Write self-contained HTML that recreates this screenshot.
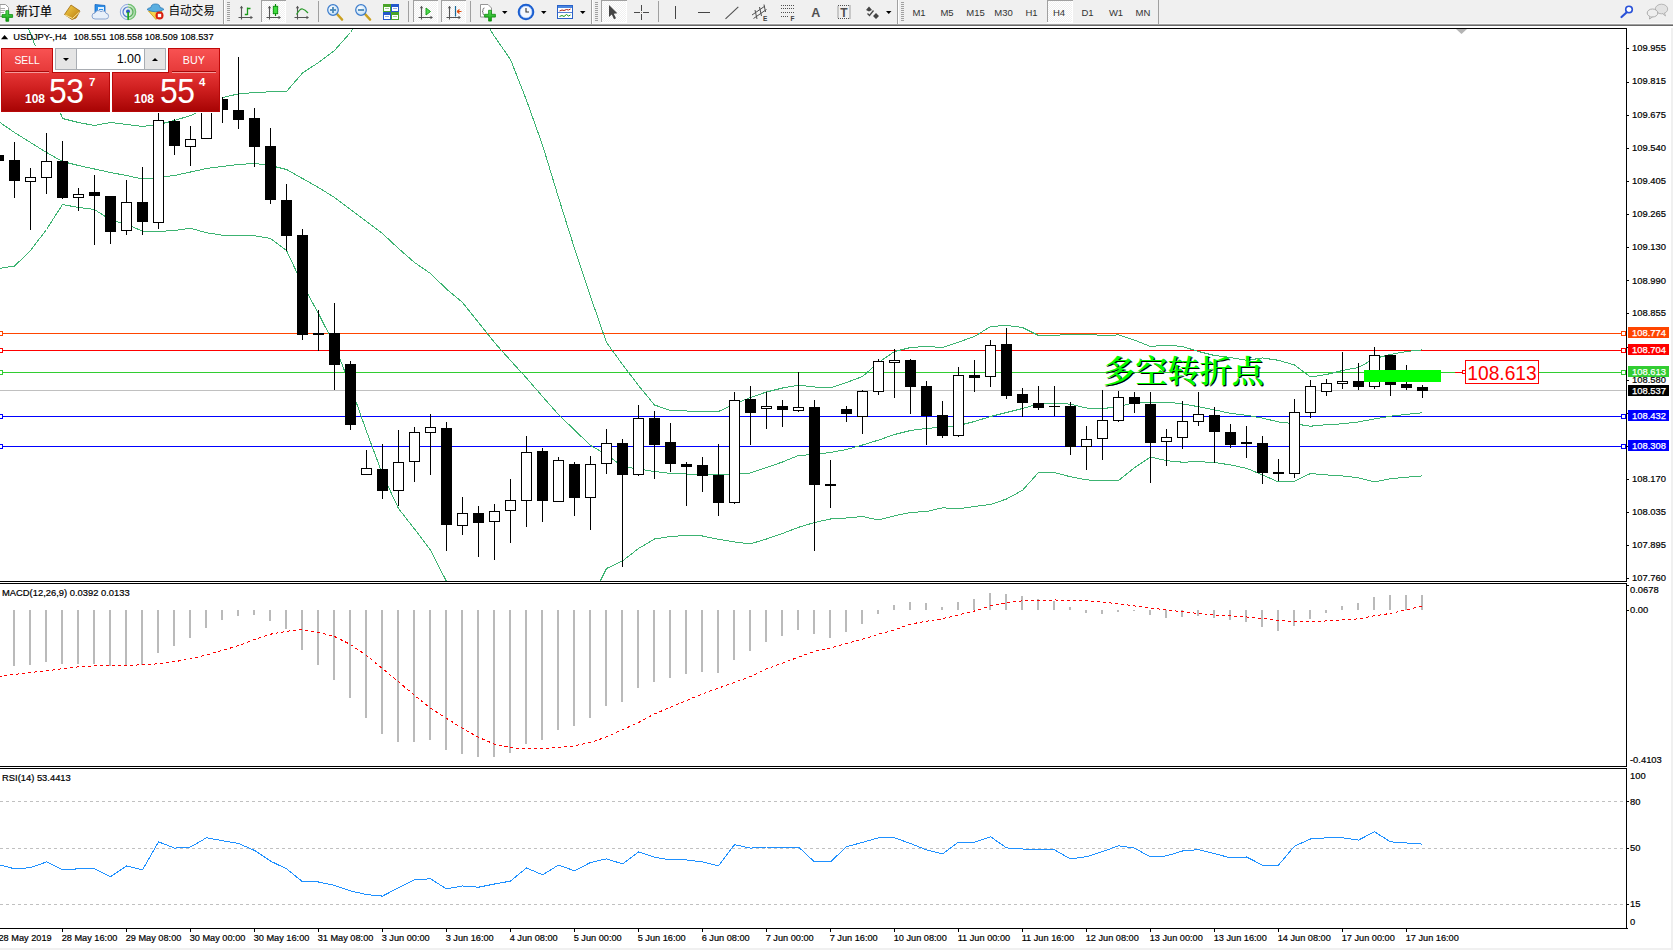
<!DOCTYPE html>
<html><head><meta charset="utf-8"><title>USDJPY-,H4</title>
<style>
html,body{margin:0;padding:0;background:#fff;}
body{width:1673px;height:950px;overflow:hidden;position:relative;font-family:"Liberation Sans", "Noto Sans CJK SC", sans-serif;}
svg text[fill="#000"]{stroke:#000;stroke-width:.2px}
svg text[fill="#fff"]{stroke:#fff;stroke-width:.25px}
</style></head><body>
<svg width="1673" height="950" viewBox="0 0 1673 950" style="position:absolute;left:0;top:0" font-family='"Liberation Sans", "Noto Sans CJK SC", sans-serif' font-size="9.4px">
<defs><clipPath id="cm"><rect x="0" y="29" width="1626" height="552"/></clipPath><clipPath id="c2"><rect x="0" y="584" width="1626" height="182"/></clipPath><clipPath id="c3"><rect x="0" y="769" width="1626" height="159"/></clipPath></defs>
<g shape-rendering="crispEdges">
<rect x="0" y="28" width="1627" height="1" fill="#000"/>
<rect x="1626" y="28" width="1" height="554" fill="#000"/><rect x="1626" y="582" width="1" height="1" fill="#fff"/>
<rect x="0" y="581" width="1627" height="1" fill="#000"/>
<rect x="0" y="583" width="1627" height="1" fill="#000"/>
<rect x="1626" y="583" width="1" height="184" fill="#000"/>
<rect x="0" y="766" width="1627" height="1" fill="#000"/>
<rect x="0" y="768" width="1627" height="1" fill="#000"/>
<rect x="1626" y="768" width="1" height="161" fill="#000"/>
<rect x="0" y="928" width="1628" height="1" fill="#000"/>
<rect x="1671" y="26" width="2" height="924" fill="#f0f0f0"/>
<rect x="0" y="948" width="1673" height="2" fill="#f0f0f0"/>
<rect x="1627" y="48" width="2" height="1" fill="#000"/>
<rect x="1627" y="82" width="2" height="1" fill="#000"/>
<rect x="1627" y="115" width="2" height="1" fill="#000"/>
<rect x="1627" y="148" width="2" height="1" fill="#000"/>
<rect x="1627" y="181" width="2" height="1" fill="#000"/>
<rect x="1627" y="214" width="2" height="1" fill="#000"/>
<rect x="1627" y="247" width="2" height="1" fill="#000"/>
<rect x="1627" y="280" width="2" height="1" fill="#000"/>
<rect x="1627" y="313" width="2" height="1" fill="#000"/>
<rect x="1627" y="347" width="2" height="1" fill="#000"/>
<rect x="1627" y="380" width="2" height="1" fill="#000"/>
<rect x="1627" y="413" width="2" height="1" fill="#000"/>
<rect x="1627" y="446" width="2" height="1" fill="#000"/>
<rect x="1627" y="479" width="2" height="1" fill="#000"/>
<rect x="1627" y="512" width="2" height="1" fill="#000"/>
<rect x="1627" y="545" width="2" height="1" fill="#000"/>
<rect x="1627" y="578" width="2" height="1" fill="#000"/>
<rect x="1627" y="585" width="2" height="1" fill="#000"/>
<rect x="1627" y="610" width="2" height="1" fill="#000"/>
<rect x="1627" y="801" width="2" height="1" fill="#000"/>
<rect x="1627" y="848" width="2" height="1" fill="#000"/>
<rect x="1627" y="904" width="2" height="1" fill="#000"/>
<rect x="62" y="929" width="1" height="3" fill="#000"/>
<rect x="126" y="929" width="1" height="3" fill="#000"/>
<rect x="190" y="929" width="1" height="3" fill="#000"/>
<rect x="254" y="929" width="1" height="3" fill="#000"/>
<rect x="318" y="929" width="1" height="3" fill="#000"/>
<rect x="382" y="929" width="1" height="3" fill="#000"/>
<rect x="446" y="929" width="1" height="3" fill="#000"/>
<rect x="510" y="929" width="1" height="3" fill="#000"/>
<rect x="574" y="929" width="1" height="3" fill="#000"/>
<rect x="638" y="929" width="1" height="3" fill="#000"/>
<rect x="702" y="929" width="1" height="3" fill="#000"/>
<rect x="766" y="929" width="1" height="3" fill="#000"/>
<rect x="830" y="929" width="1" height="3" fill="#000"/>
<rect x="894" y="929" width="1" height="3" fill="#000"/>
<rect x="958" y="929" width="1" height="3" fill="#000"/>
<rect x="1022" y="929" width="1" height="3" fill="#000"/>
<rect x="1086" y="929" width="1" height="3" fill="#000"/>
<rect x="1150" y="929" width="1" height="3" fill="#000"/>
<rect x="1214" y="929" width="1" height="3" fill="#000"/>
<rect x="1278" y="929" width="1" height="3" fill="#000"/>
<rect x="1342" y="929" width="1" height="3" fill="#000"/>
<rect x="1406" y="929" width="1" height="3" fill="#000"/>
</g>
<g clip-path="url(#cm)">
<g shape-rendering="crispEdges">
<rect x="0" y="333" width="1626" height="1" fill="#ff4500"/>
<rect x="0" y="350" width="1626" height="1" fill="#ff0000"/>
<rect x="0" y="372" width="1626" height="1" fill="#32cd32"/>
<rect x="0" y="390" width="1626" height="1" fill="#c0c0c0"/>
<rect x="0" y="416" width="1626" height="1" fill="#0000ff"/>
<rect x="0" y="446" width="1626" height="1" fill="#0000ff"/>
<rect x="-1.5" y="331.5" width="4" height="4" fill="#fff" stroke="#ff4500" stroke-width="1"/>
<rect x="1621.5" y="331.5" width="4" height="4" fill="#fff" stroke="#ff4500" stroke-width="1"/>
<rect x="-1.5" y="348.5" width="4" height="4" fill="#fff" stroke="#ff0000" stroke-width="1"/>
<rect x="1621.5" y="348.5" width="4" height="4" fill="#fff" stroke="#ff0000" stroke-width="1"/>
<rect x="-1.5" y="370.5" width="4" height="4" fill="#fff" stroke="#32cd32" stroke-width="1"/>
<rect x="1621.5" y="370.5" width="4" height="4" fill="#fff" stroke="#32cd32" stroke-width="1"/>
<rect x="-1.5" y="414.5" width="4" height="4" fill="#fff" stroke="#0000ff" stroke-width="1"/>
<rect x="1621.5" y="414.5" width="4" height="4" fill="#fff" stroke="#0000ff" stroke-width="1"/>
<rect x="-1.5" y="444.5" width="4" height="4" fill="#fff" stroke="#0000ff" stroke-width="1"/>
<rect x="1621.5" y="444.5" width="4" height="4" fill="#fff" stroke="#0000ff" stroke-width="1"/>
<polyline points="14.5,-7.5 30.5,33.7 46.5,74.5 62.5,118.5 78.5,122.5 94.5,125.5 110.5,122.5 126.5,124.5 142.5,126.5 158.5,124.5 174.5,120.5 190.5,115.5 206.5,108.5 222.5,97.5 238.5,93.9 254.5,92.5 270.5,91.8 286.5,91.5 302.5,73 318.5,62.5 334.5,50.5 350.5,32.5 366.5,8.5" fill="none" stroke="#3cb371" stroke-width="1" />
<polyline points="478.5,10.5 494.5,36.5 510.5,59.5 526.5,100.2 542.5,145 558.5,197.5 574.5,248.5 590.5,296.5 606.5,342.5 622.5,364.5 638.5,385.5 654.5,405 670.5,410.5 686.5,411 702.5,411.3 718.5,411.5 734.5,404 750.5,397.5 766.5,392 782.5,388 798.5,385.2 814.5,387 830.5,388 846.5,382.5 862.5,376.5 878.5,362.5 894.5,351.5 910.5,347.5 926.5,346.5 942.5,347.5 958.5,342.1 974.5,336.5 990.5,326.5 1006.5,325.5 1022.5,327.5 1038.5,335.5 1054.5,335.5 1070.5,334.1 1086.5,334.1 1102.5,335.5 1118.5,334.9 1134.5,340.1 1150.5,346.5 1166.5,345.1 1182.5,346.5 1198.5,351.5 1214.5,355.5 1230.5,357.5 1246.5,360.3 1262.5,358 1278.5,360.3 1294.5,365 1310.5,377 1326.5,374.5 1342.5,370.5 1358.5,367.5 1374.5,358.5 1390.5,354.5 1406.5,351.5 1422.5,349.9" fill="none" stroke="#3cb371" stroke-width="1" />
<polyline points="-1.5,121.5 14.5,132.5 30.5,142.5 46.5,152.5 62.5,161.5 78.5,165.5 94.5,169 110.5,172.5 126.5,175.5 142.5,179 158.5,177.5 174.5,175.5 190.5,172 206.5,168.5 222.5,166.5 238.5,164.5 254.5,163.5 270.5,165.5 286.5,169.5 302.5,178.5 318.5,187.5 334.5,197.5 350.5,209.5 366.5,221.5 382.5,233.5 398.5,248.5 414.5,262.5 430.5,273.5 446.5,289 462.5,302.5 478.5,322.5 494.5,342.5 510.5,360.5 526.5,378 542.5,396.5 558.5,414.5 574.5,430 590.5,445.5 606.5,454.5 622.5,466.5 638.5,469 654.5,471.5 670.5,473.5 686.5,474 702.5,474.5 718.5,474.5 734.5,473.8 750.5,473 766.5,467.5 782.5,462 798.5,455.5 814.5,454.5 830.5,452.5 846.5,449.5 862.5,445 878.5,440.1 894.5,434.5 910.5,430.5 926.5,428.5 942.5,427 958.5,425.5 974.5,421.5 990.5,416.5 1006.5,412.5 1022.5,408.5 1038.5,404 1054.5,403.5 1070.5,404.1 1086.5,408 1102.5,408.5 1118.5,406.9 1134.5,402.5 1150.5,402 1166.5,402 1182.5,403.9 1198.5,406.7 1214.5,409.9 1230.5,413.4 1246.5,415.3 1262.5,418.1 1278.5,421.9 1294.5,423.8 1310.5,426.2 1326.5,424.7 1342.5,423.8 1358.5,421.9 1374.5,419 1390.5,416.2 1406.5,414.3 1422.5,412.8" fill="none" stroke="#3cb371" stroke-width="1" />
<polyline points="-1.5,268.5 14.5,266.1 30.5,250.5 46.5,229.5 62.5,204.5 78.5,207.5 94.5,209.5 110.5,220 126.5,224.5 142.5,231 158.5,231.5 174.5,230.5 190.5,228.3 206.5,232.7 222.5,235.2 238.5,236 254.5,235.7 270.5,238.5 286.5,250.5 302.5,284.5 318.5,313.5 334.5,345.2 350.5,386 366.5,431.3 382.5,474.3 398.5,508.5 414.5,529 430.5,550 446.5,581.5 462.5,600.5" fill="none" stroke="#3cb371" stroke-width="1" />
<polyline points="590.5,600.5 606.5,568.5 622.5,561 638.5,548.5 654.5,539 670.5,536.5 686.5,535.5 702.5,536 718.5,539.3 734.5,542 750.5,543.8 766.5,539 782.5,533.5 798.5,527.3 814.5,522.5 830.5,519 846.5,518 862.5,516.5 878.5,520 894.5,515.8 910.5,512.5 926.5,511.5 942.5,507.8 958.5,508.8 974.5,506.5 990.5,504.5 1006.5,499 1022.5,490.3 1038.5,472.5 1054.5,472.5 1070.5,476.8 1086.5,479.8 1102.5,481 1118.5,480.5 1134.5,467.7 1150.5,456.9 1166.5,460.7 1182.5,462.2 1198.5,461.7 1214.5,462.5 1230.5,464.9 1246.5,468.3 1262.5,474.9 1278.5,482 1294.5,481.2 1310.5,473.5 1326.5,474.9 1342.5,475.9 1358.5,477.8 1374.5,482 1390.5,478.7 1406.5,477.2 1422.5,475.9" fill="none" stroke="#3cb371" stroke-width="1" />
<rect x="-7" y="155" width="11" height="6" fill="#000"/>
<rect x="14" y="142" width="1" height="56" fill="#000"/>
<rect x="9" y="160" width="11" height="21" fill="#000"/>
<rect x="30" y="168" width="1" height="62" fill="#000"/>
<rect x="25.5" y="177.5" width="10" height="4" fill="#fff" stroke="#000" stroke-width="1"/>
<rect x="46" y="133" width="1" height="61" fill="#000"/>
<rect x="41.5" y="161.5" width="10" height="16" fill="#fff" stroke="#000" stroke-width="1"/>
<rect x="62" y="141" width="1" height="58" fill="#000"/>
<rect x="57" y="161" width="11" height="37" fill="#000"/>
<rect x="78" y="188" width="1" height="23" fill="#000"/>
<rect x="73.5" y="194.5" width="10" height="3" fill="#fff" stroke="#000" stroke-width="1"/>
<rect x="94" y="175" width="1" height="70" fill="#000"/>
<rect x="89" y="192" width="11" height="4" fill="#000"/>
<rect x="110" y="196" width="1" height="48" fill="#000"/>
<rect x="105" y="196" width="11" height="36" fill="#000"/>
<rect x="126" y="180" width="1" height="55" fill="#000"/>
<rect x="121.5" y="202.5" width="10" height="28" fill="#fff" stroke="#000" stroke-width="1"/>
<rect x="142" y="167" width="1" height="68" fill="#000"/>
<rect x="137" y="202" width="11" height="20" fill="#000"/>
<rect x="158" y="105" width="1" height="124" fill="#000"/>
<rect x="153.5" y="120.5" width="10" height="102" fill="#fff" stroke="#000" stroke-width="1"/>
<rect x="174" y="119" width="1" height="36" fill="#000"/>
<rect x="169" y="121" width="11" height="25" fill="#000"/>
<rect x="190" y="126" width="1" height="40" fill="#000"/>
<rect x="185.5" y="139.5" width="10" height="7" fill="#fff" stroke="#000" stroke-width="1"/>
<rect x="206" y="95" width="1" height="44" fill="#000"/>
<rect x="201.5" y="100.5" width="10" height="38" fill="#fff" stroke="#000" stroke-width="1"/>
<rect x="222" y="97" width="1" height="26" fill="#000"/>
<rect x="217" y="99" width="11" height="11" fill="#000"/>
<rect x="238" y="57" width="1" height="72" fill="#000"/>
<rect x="233" y="110" width="11" height="10" fill="#000"/>
<rect x="254" y="108" width="1" height="59" fill="#000"/>
<rect x="249" y="118" width="11" height="29" fill="#000"/>
<rect x="270" y="128" width="1" height="76" fill="#000"/>
<rect x="265" y="146" width="11" height="54" fill="#000"/>
<rect x="286" y="184" width="1" height="67" fill="#000"/>
<rect x="281" y="200" width="11" height="36" fill="#000"/>
<rect x="302" y="229" width="1" height="111" fill="#000"/>
<rect x="297" y="235" width="11" height="100" fill="#000"/>
<rect x="318" y="310" width="1" height="41" fill="#000"/>
<rect x="313" y="333" width="11" height="2" fill="#000"/>
<rect x="334" y="303" width="1" height="87" fill="#000"/>
<rect x="329" y="333" width="11" height="32" fill="#000"/>
<rect x="350" y="361" width="1" height="69" fill="#000"/>
<rect x="345" y="364" width="11" height="61" fill="#000"/>
<rect x="366" y="450" width="1" height="25" fill="#000"/>
<rect x="361.5" y="468.5" width="10" height="6" fill="#fff" stroke="#000" stroke-width="1"/>
<rect x="382" y="444" width="1" height="55" fill="#000"/>
<rect x="377" y="469" width="11" height="22" fill="#000"/>
<rect x="398" y="430" width="1" height="76" fill="#000"/>
<rect x="393.5" y="462.5" width="10" height="28" fill="#fff" stroke="#000" stroke-width="1"/>
<rect x="414" y="427" width="1" height="55" fill="#000"/>
<rect x="409.5" y="432.5" width="10" height="29" fill="#fff" stroke="#000" stroke-width="1"/>
<rect x="430" y="414" width="1" height="61" fill="#000"/>
<rect x="425.5" y="427.5" width="10" height="5" fill="#fff" stroke="#000" stroke-width="1"/>
<rect x="446" y="422" width="1" height="129" fill="#000"/>
<rect x="441" y="428" width="11" height="97" fill="#000"/>
<rect x="462" y="497" width="1" height="38" fill="#000"/>
<rect x="457.5" y="513.5" width="10" height="12" fill="#fff" stroke="#000" stroke-width="1"/>
<rect x="478" y="506" width="1" height="51" fill="#000"/>
<rect x="473" y="513" width="11" height="10" fill="#000"/>
<rect x="494" y="504" width="1" height="56" fill="#000"/>
<rect x="489.5" y="511.5" width="10" height="10" fill="#fff" stroke="#000" stroke-width="1"/>
<rect x="510" y="479" width="1" height="64" fill="#000"/>
<rect x="505.5" y="500.5" width="10" height="10" fill="#fff" stroke="#000" stroke-width="1"/>
<rect x="526" y="436" width="1" height="91" fill="#000"/>
<rect x="521.5" y="452.5" width="10" height="48" fill="#fff" stroke="#000" stroke-width="1"/>
<rect x="542" y="448" width="1" height="74" fill="#000"/>
<rect x="537" y="451" width="11" height="50" fill="#000"/>
<rect x="558" y="457" width="1" height="45" fill="#000"/>
<rect x="553.5" y="460.5" width="10" height="41" fill="#fff" stroke="#000" stroke-width="1"/>
<rect x="574" y="462" width="1" height="54" fill="#000"/>
<rect x="569" y="464" width="11" height="34" fill="#000"/>
<rect x="590" y="456" width="1" height="74" fill="#000"/>
<rect x="585.5" y="464.5" width="10" height="33" fill="#fff" stroke="#000" stroke-width="1"/>
<rect x="606" y="429" width="1" height="45" fill="#000"/>
<rect x="601.5" y="443.5" width="10" height="20" fill="#fff" stroke="#000" stroke-width="1"/>
<rect x="622" y="439" width="1" height="128" fill="#000"/>
<rect x="617" y="443" width="11" height="32" fill="#000"/>
<rect x="638" y="405" width="1" height="71" fill="#000"/>
<rect x="633.5" y="418.5" width="10" height="56" fill="#fff" stroke="#000" stroke-width="1"/>
<rect x="654" y="411" width="1" height="68" fill="#000"/>
<rect x="649" y="418" width="11" height="27" fill="#000"/>
<rect x="670" y="423" width="1" height="49" fill="#000"/>
<rect x="665" y="442" width="11" height="22" fill="#000"/>
<rect x="686" y="462" width="1" height="44" fill="#000"/>
<rect x="681" y="464" width="11" height="3" fill="#000"/>
<rect x="702" y="457" width="1" height="35" fill="#000"/>
<rect x="697" y="465" width="11" height="11" fill="#000"/>
<rect x="718" y="444" width="1" height="72" fill="#000"/>
<rect x="713" y="475" width="11" height="28" fill="#000"/>
<rect x="734" y="392" width="1" height="112" fill="#000"/>
<rect x="729.5" y="400.5" width="10" height="102" fill="#fff" stroke="#000" stroke-width="1"/>
<rect x="750" y="386" width="1" height="59" fill="#000"/>
<rect x="745" y="399" width="11" height="14" fill="#000"/>
<rect x="766" y="392" width="1" height="37" fill="#000"/>
<rect x="761.5" y="406.5" width="10" height="2" fill="#fff" stroke="#000" stroke-width="1"/>
<rect x="782" y="400" width="1" height="27" fill="#000"/>
<rect x="777" y="406" width="11" height="4" fill="#000"/>
<rect x="798" y="372" width="1" height="40" fill="#000"/>
<rect x="793.5" y="407.5" width="10" height="3" fill="#fff" stroke="#000" stroke-width="1"/>
<rect x="814" y="400" width="1" height="151" fill="#000"/>
<rect x="809" y="407" width="11" height="78" fill="#000"/>
<rect x="830" y="460" width="1" height="48" fill="#000"/>
<rect x="825" y="484" width="11" height="2" fill="#000"/>
<rect x="846" y="406" width="1" height="16" fill="#000"/>
<rect x="841" y="409" width="11" height="5" fill="#000"/>
<rect x="862" y="390" width="1" height="44" fill="#000"/>
<rect x="857.5" y="391.5" width="10" height="25" fill="#fff" stroke="#000" stroke-width="1"/>
<rect x="878" y="359" width="1" height="36" fill="#000"/>
<rect x="873.5" y="361.5" width="10" height="30" fill="#fff" stroke="#000" stroke-width="1"/>
<rect x="894" y="349" width="1" height="49" fill="#000"/>
<rect x="889.5" y="360.5" width="10" height="2" fill="#fff" stroke="#000" stroke-width="1"/>
<rect x="910" y="359" width="1" height="55" fill="#000"/>
<rect x="905" y="360" width="11" height="27" fill="#000"/>
<rect x="926" y="381" width="1" height="64" fill="#000"/>
<rect x="921" y="386" width="11" height="30" fill="#000"/>
<rect x="942" y="401" width="1" height="37" fill="#000"/>
<rect x="937" y="415" width="11" height="21" fill="#000"/>
<rect x="958" y="367" width="1" height="70" fill="#000"/>
<rect x="953.5" y="375.5" width="10" height="60" fill="#fff" stroke="#000" stroke-width="1"/>
<rect x="974" y="360" width="1" height="32" fill="#000"/>
<rect x="969" y="375" width="11" height="3" fill="#000"/>
<rect x="990" y="340" width="1" height="47" fill="#000"/>
<rect x="985.5" y="345.5" width="10" height="31" fill="#fff" stroke="#000" stroke-width="1"/>
<rect x="1006" y="328" width="1" height="71" fill="#000"/>
<rect x="1001" y="344" width="11" height="52" fill="#000"/>
<rect x="1022" y="388" width="1" height="29" fill="#000"/>
<rect x="1017" y="394" width="11" height="9" fill="#000"/>
<rect x="1038" y="386" width="1" height="24" fill="#000"/>
<rect x="1033" y="403" width="11" height="5" fill="#000"/>
<rect x="1054" y="386" width="1" height="30" fill="#000"/>
<rect x="1049" y="406" width="11" height="1" fill="#000"/>
<rect x="1070" y="402" width="1" height="53" fill="#000"/>
<rect x="1065" y="406" width="11" height="41" fill="#000"/>
<rect x="1086" y="426" width="1" height="44" fill="#000"/>
<rect x="1081.5" y="439.5" width="10" height="7" fill="#fff" stroke="#000" stroke-width="1"/>
<rect x="1102" y="390" width="1" height="70" fill="#000"/>
<rect x="1097.5" y="420.5" width="10" height="18" fill="#fff" stroke="#000" stroke-width="1"/>
<rect x="1118" y="391" width="1" height="31" fill="#000"/>
<rect x="1113.5" y="397.5" width="10" height="23" fill="#fff" stroke="#000" stroke-width="1"/>
<rect x="1134" y="392" width="1" height="21" fill="#000"/>
<rect x="1129" y="397" width="11" height="7" fill="#000"/>
<rect x="1150" y="392" width="1" height="91" fill="#000"/>
<rect x="1145" y="404" width="11" height="39" fill="#000"/>
<rect x="1166" y="429" width="1" height="37" fill="#000"/>
<rect x="1161.5" y="437.5" width="10" height="4" fill="#fff" stroke="#000" stroke-width="1"/>
<rect x="1182" y="401" width="1" height="48" fill="#000"/>
<rect x="1177.5" y="421.5" width="10" height="16" fill="#fff" stroke="#000" stroke-width="1"/>
<rect x="1198" y="392" width="1" height="34" fill="#000"/>
<rect x="1193.5" y="414.5" width="10" height="7" fill="#fff" stroke="#000" stroke-width="1"/>
<rect x="1214" y="407" width="1" height="56" fill="#000"/>
<rect x="1209" y="415" width="11" height="17" fill="#000"/>
<rect x="1230" y="424" width="1" height="24" fill="#000"/>
<rect x="1225" y="432" width="11" height="13" fill="#000"/>
<rect x="1246" y="426" width="1" height="32" fill="#000"/>
<rect x="1241" y="442" width="11" height="2" fill="#000"/>
<rect x="1262" y="436" width="1" height="48" fill="#000"/>
<rect x="1257" y="443" width="11" height="30" fill="#000"/>
<rect x="1278" y="459" width="1" height="22" fill="#000"/>
<rect x="1273" y="472" width="11" height="2" fill="#000"/>
<rect x="1294" y="399" width="1" height="79" fill="#000"/>
<rect x="1289.5" y="412.5" width="10" height="61" fill="#fff" stroke="#000" stroke-width="1"/>
<rect x="1310" y="380" width="1" height="38" fill="#000"/>
<rect x="1305.5" y="386.5" width="10" height="26" fill="#fff" stroke="#000" stroke-width="1"/>
<rect x="1326" y="379" width="1" height="17" fill="#000"/>
<rect x="1321.5" y="383.5" width="10" height="8" fill="#fff" stroke="#000" stroke-width="1"/>
<rect x="1342" y="352" width="1" height="37" fill="#000"/>
<rect x="1337.5" y="381.5" width="10" height="2" fill="#fff" stroke="#000" stroke-width="1"/>
<rect x="1358" y="363" width="1" height="27" fill="#000"/>
<rect x="1353" y="381" width="11" height="6" fill="#000"/>
<rect x="1374" y="347" width="1" height="42" fill="#000"/>
<rect x="1369.5" y="355.5" width="10" height="31" fill="#fff" stroke="#000" stroke-width="1"/>
<rect x="1390" y="355" width="1" height="41" fill="#000"/>
<rect x="1385" y="355" width="11" height="30" fill="#000"/>
<rect x="1406" y="365" width="1" height="25" fill="#000"/>
<rect x="1401" y="384" width="11" height="4" fill="#000"/>
<rect x="1422" y="385" width="1" height="13" fill="#000"/>
<rect x="1417" y="387" width="11" height="4" fill="#000"/>
<rect x="1364" y="370" width="77" height="12" fill="#00ff00"/>
<rect x="1441" y="372" width="14" height="1" fill="#32cd32"/>
<rect x="1455" y="372" width="7" height="1" fill="#ff0000"/>
<rect x="1462.5" y="370.5" width="3" height="3" fill="#fff" stroke="#ff0000"/>
<rect x="1465.5" y="360.5" width="73" height="23" fill="#fff" stroke="#ff0000"/>
</g>
<text x="1502" y="380" font-size="20.3px" fill="#ff0000" text-anchor="middle" textLength="69.5" lengthAdjust="spacingAndGlyphs">108.613</text>
<text x="1104" y="382.7" font-family='"Liberation Serif", "Noto Serif CJK SC", serif' font-weight="600" font-size="31px" fill="#000" textLength="161" lengthAdjust="spacingAndGlyphs">多空转折点</text>
<text x="1103" y="381.7" font-family='"Liberation Serif", "Noto Serif CJK SC", serif' font-weight="600" font-size="31px" fill="#00ff00" textLength="161" lengthAdjust="spacingAndGlyphs">多空转折点</text>
</g>
<polygon points="1456,29 1467,29 1461.5,34" fill="#b4b4b4"/>
<polygon points="1,39.2 8.2,39.2 4.6,35" fill="#000"/>
<text x="13.3" y="39.5" fill="#000" textLength="53.5" lengthAdjust="spacingAndGlyphs">USDJPY-,H4</text><text x="73.5" y="39.5" fill="#000" textLength="140" lengthAdjust="spacingAndGlyphs">108.551 108.558 108.509 108.537</text>
<text x="1632" y="51.3" fill="#000">109.955</text>
<text x="1632" y="84.3" fill="#000">109.815</text>
<text x="1632" y="118.3" fill="#000">109.675</text>
<text x="1632" y="151.3" fill="#000">109.540</text>
<text x="1632" y="184.3" fill="#000">109.405</text>
<text x="1632" y="217.3" fill="#000">109.265</text>
<text x="1632" y="250.3" fill="#000">109.130</text>
<text x="1632" y="284.3" fill="#000">108.990</text>
<text x="1632" y="316.3" fill="#000">108.855</text>
<text x="1632" y="383.3" fill="#000">108.580</text>
<text x="1632" y="482.3" fill="#000">108.170</text>
<text x="1632" y="515.3" fill="#000">108.035</text>
<text x="1632" y="548.3" fill="#000">107.895</text>
<text x="1632" y="581.3" fill="#000">107.760</text>
<rect x="1628" y="327" width="41" height="11" fill="#ff4500" shape-rendering="crispEdges"/>
<text x="1632" y="336" fill="#fff">108.774</text>
<rect x="1628" y="344" width="41" height="11" fill="#ff0000" shape-rendering="crispEdges"/>
<text x="1632" y="353" fill="#fff">108.704</text>
<rect x="1628" y="366" width="41" height="11" fill="#32cd32" shape-rendering="crispEdges"/>
<text x="1632" y="375" fill="#fff">108.613</text>
<rect x="1628" y="385" width="41" height="11" fill="#000" shape-rendering="crispEdges"/><text x="1632" y="393.5" fill="#fff">108.537</text>
<rect x="1628" y="410" width="41" height="11" fill="#0000ff" shape-rendering="crispEdges"/>
<text x="1632" y="419" fill="#fff">108.432</text>
<rect x="1628" y="440" width="41" height="11" fill="#0000ff" shape-rendering="crispEdges"/>
<text x="1632" y="449" fill="#fff">108.308</text>
<g clip-path="url(#c2)" shape-rendering="crispEdges">
<rect x="13" y="610" width="2" height="56" fill="#bababa"/>
<rect x="29" y="610" width="2" height="55" fill="#bababa"/>
<rect x="45" y="610" width="2" height="52" fill="#bababa"/>
<rect x="61" y="610" width="2" height="54" fill="#bababa"/>
<rect x="77" y="610" width="2" height="54" fill="#bababa"/>
<rect x="93" y="610" width="2" height="54" fill="#bababa"/>
<rect x="109" y="610" width="2" height="56" fill="#bababa"/>
<rect x="125" y="610" width="2" height="55" fill="#bababa"/>
<rect x="141" y="610" width="2" height="55" fill="#bababa"/>
<rect x="157" y="610" width="2" height="43" fill="#bababa"/>
<rect x="173" y="610" width="2" height="36" fill="#bababa"/>
<rect x="189" y="610" width="2" height="28" fill="#bababa"/>
<rect x="205" y="610" width="2" height="18" fill="#bababa"/>
<rect x="221" y="610" width="2" height="10" fill="#bababa"/>
<rect x="237" y="610" width="2" height="6" fill="#bababa"/>
<rect x="253" y="610" width="2" height="5" fill="#bababa"/>
<rect x="269" y="610" width="2" height="11" fill="#bababa"/>
<rect x="285" y="610" width="2" height="19" fill="#bababa"/>
<rect x="301" y="610" width="2" height="40" fill="#bababa"/>
<rect x="317" y="610" width="2" height="55" fill="#bababa"/>
<rect x="333" y="610" width="2" height="70" fill="#bababa"/>
<rect x="349" y="610" width="2" height="88" fill="#bababa"/>
<rect x="365" y="610" width="2" height="108" fill="#bababa"/>
<rect x="381" y="610" width="2" height="124" fill="#bababa"/>
<rect x="397" y="610" width="2" height="132" fill="#bababa"/>
<rect x="413" y="610" width="2" height="132" fill="#bababa"/>
<rect x="429" y="610" width="2" height="130" fill="#bababa"/>
<rect x="445" y="610" width="2" height="140" fill="#bababa"/>
<rect x="461" y="610" width="2" height="144" fill="#bababa"/>
<rect x="477" y="610" width="2" height="147" fill="#bababa"/>
<rect x="493" y="610" width="2" height="147" fill="#bababa"/>
<rect x="509" y="610" width="2" height="143" fill="#bababa"/>
<rect x="525" y="610" width="2" height="134" fill="#bababa"/>
<rect x="541" y="610" width="2" height="130" fill="#bababa"/>
<rect x="557" y="610" width="2" height="120" fill="#bababa"/>
<rect x="573" y="610" width="2" height="116" fill="#bababa"/>
<rect x="589" y="610" width="2" height="108" fill="#bababa"/>
<rect x="605" y="610" width="2" height="96" fill="#bababa"/>
<rect x="621" y="610" width="2" height="92" fill="#bababa"/>
<rect x="637" y="610" width="2" height="78" fill="#bababa"/>
<rect x="653" y="610" width="2" height="72" fill="#bababa"/>
<rect x="669" y="610" width="2" height="68" fill="#bababa"/>
<rect x="685" y="610" width="2" height="64" fill="#bababa"/>
<rect x="701" y="610" width="2" height="62" fill="#bababa"/>
<rect x="717" y="610" width="2" height="63" fill="#bababa"/>
<rect x="733" y="610" width="2" height="50" fill="#bababa"/>
<rect x="749" y="610" width="2" height="41" fill="#bababa"/>
<rect x="765" y="610" width="2" height="32" fill="#bababa"/>
<rect x="781" y="610" width="2" height="26" fill="#bababa"/>
<rect x="797" y="610" width="2" height="20" fill="#bababa"/>
<rect x="813" y="610" width="2" height="24" fill="#bababa"/>
<rect x="829" y="610" width="2" height="28" fill="#bababa"/>
<rect x="845" y="610" width="2" height="22" fill="#bababa"/>
<rect x="861" y="610" width="2" height="14" fill="#bababa"/>
<rect x="877" y="610" width="2" height="4" fill="#bababa"/>
<rect x="893" y="605" width="2" height="5" fill="#bababa"/>
<rect x="909" y="602" width="2" height="8" fill="#bababa"/>
<rect x="925" y="603" width="2" height="7" fill="#bababa"/>
<rect x="941" y="607" width="2" height="3" fill="#bababa"/>
<rect x="957" y="602" width="2" height="8" fill="#bababa"/>
<rect x="973" y="599" width="2" height="11" fill="#bababa"/>
<rect x="989" y="593" width="2" height="17" fill="#bababa"/>
<rect x="1005" y="594" width="2" height="16" fill="#bababa"/>
<rect x="1021" y="596" width="2" height="14" fill="#bababa"/>
<rect x="1037" y="599" width="2" height="11" fill="#bababa"/>
<rect x="1053" y="601" width="2" height="9" fill="#bababa"/>
<rect x="1069" y="607" width="2" height="3" fill="#bababa"/>
<rect x="1085" y="610" width="2" height="3" fill="#bababa"/>
<rect x="1101" y="610" width="2" height="4" fill="#bababa"/>
<rect x="1117" y="610" width="2" height="2" fill="#bababa"/>
<rect x="1133" y="610" width="2" height="1" fill="#bababa"/>
<rect x="1149" y="610" width="2" height="5" fill="#bababa"/>
<rect x="1165" y="610" width="2" height="8" fill="#bababa"/>
<rect x="1181" y="610" width="2" height="7" fill="#bababa"/>
<rect x="1197" y="610" width="2" height="6" fill="#bababa"/>
<rect x="1213" y="610" width="2" height="8" fill="#bababa"/>
<rect x="1229" y="610" width="2" height="10" fill="#bababa"/>
<rect x="1245" y="610" width="2" height="12" fill="#bababa"/>
<rect x="1261" y="610" width="2" height="17" fill="#bababa"/>
<rect x="1277" y="610" width="2" height="21" fill="#bababa"/>
<rect x="1293" y="610" width="2" height="16" fill="#bababa"/>
<rect x="1309" y="610" width="2" height="9" fill="#bababa"/>
<rect x="1325" y="610" width="2" height="3" fill="#bababa"/>
<rect x="1341" y="606" width="2" height="4" fill="#bababa"/>
<rect x="1357" y="603" width="2" height="7" fill="#bababa"/>
<rect x="1373" y="597" width="2" height="13" fill="#bababa"/>
<rect x="1389" y="595" width="2" height="15" fill="#bababa"/>
<rect x="1405" y="595" width="2" height="15" fill="#bababa"/>
<rect x="1421" y="595" width="2" height="15" fill="#bababa"/>
<polyline points="-1.5,676.5 14.5,674.4 30.5,672.4 46.5,670.9 62.5,668.6 78.5,666.9 94.5,665.8 110.5,665.8 126.5,665.2 142.5,664.9 158.5,663.8 174.5,661.7 190.5,658.9 206.5,654.9 222.5,650.3 238.5,645.7 254.5,639.4 270.5,634.2 286.5,631.3 302.5,629.6 318.5,632.2 334.5,636.5 350.5,644.5 366.5,655.5 382.5,668.6 398.5,681.8 414.5,695.3 430.5,708.2 446.5,718.3 462.5,728.3 478.5,737.3 494.5,744.1 510.5,747.5 526.5,748.9 542.5,748.7 558.5,747.5 574.5,745.8 590.5,742.5 606.5,736.9 622.5,729.7 638.5,722.5 654.5,713.9 670.5,707.3 686.5,700.5 702.5,693.8 718.5,688.1 734.5,682.4 750.5,676.6 766.5,668.9 782.5,663.1 798.5,657.1 814.5,651.4 830.5,647.9 846.5,643.6 862.5,639.3 878.5,634.2 894.5,629.9 910.5,624.1 926.5,621.2 942.5,618.7 958.5,614.9 974.5,611 990.5,605.9 1006.5,602.9 1022.5,600.8 1038.5,600.8 1054.5,599.9 1070.5,600.8 1086.5,600.8 1102.5,602 1118.5,603.8 1134.5,605.9 1150.5,608 1166.5,609.8 1182.5,611.9 1198.5,613.4 1214.5,614.9 1230.5,615.8 1246.5,617 1262.5,618.5 1278.5,620.3 1294.5,621.8 1310.5,621.8 1326.5,620.9 1342.5,620 1358.5,618.8 1374.5,615.8 1390.5,613.4 1406.5,609.8 1422.5,605.9" fill="none" stroke="#ff0000" stroke-width="1" stroke-dasharray="3,3"/>
</g>
<text x="2" y="596" fill="#000">MACD(12,26,9) 0.0392 0.0133</text>
<text x="1630" y="593.3" fill="#000">0.0678</text>
<text x="1630" y="613.3" fill="#000">0.00</text>
<text x="1630" y="763.3" fill="#000">-0.4103</text>
<g clip-path="url(#c3)" shape-rendering="crispEdges">
<line x1="0" y1="801.5" x2="1626" y2="801.5" stroke="#c0c0c0" stroke-width="1" stroke-dasharray="3,3"/>
<line x1="0" y1="848.5" x2="1626" y2="848.5" stroke="#c0c0c0" stroke-width="1" stroke-dasharray="3,3"/>
<line x1="0" y1="904.5" x2="1626" y2="904.5" stroke="#c0c0c0" stroke-width="1" stroke-dasharray="3,3"/>
<polyline points="-1.5,864.5 14.5,868.8 30.5,867.7 46.5,861.9 62.5,869.9 78.5,868.8 94.5,868.8 110.5,876.8 126.5,865.9 142.5,869.9 158.5,841.8 174.5,848.1 190.5,847 206.5,837.8 222.5,840.7 238.5,843.5 254.5,850.4 270.5,861.1 286.5,868.8 302.5,881.7 318.5,882 334.5,885.4 350.5,890.9 366.5,894.6 382.5,896.1 398.5,887.7 414.5,879.7 430.5,878.8 446.5,888.9 462.5,886 478.5,887.2 494.5,884 510.5,881.1 526.5,867.9 542.5,874.8 558.5,865.1 574.5,870.8 590.5,862.5 606.5,858.8 622.5,863.9 638.5,851.9 654.5,857.3 670.5,859.9 686.5,859.9 702.5,861.9 718.5,865.9 734.5,844.7 750.5,848.1 766.5,847 782.5,847 798.5,847 814.5,861.9 830.5,861.9 846.5,846.7 862.5,842.4 878.5,837.8 894.5,837.8 910.5,843.5 926.5,849.9 942.5,853.9 958.5,842.1 974.5,842.1 990.5,836.7 1006.5,847.9 1022.5,849 1038.5,849.9 1054.5,849.9 1070.5,859 1086.5,856.7 1102.5,851.6 1118.5,845.8 1134.5,848.1 1150.5,857 1166.5,855.9 1182.5,851 1198.5,849.6 1214.5,853.6 1230.5,857.9 1246.5,857 1262.5,865.1 1278.5,865.1 1294.5,846.1 1310.5,839 1326.5,837.8 1342.5,837.8 1358.5,840.1 1374.5,831.8 1390.5,841.8 1406.5,843 1422.5,844.1" fill="none" stroke="#1e90ff" stroke-width="1"/>
</g>
<text x="2" y="781" fill="#000">RSI(14) 53.4413</text>
<text x="1630" y="779.3" fill="#000">100</text>
<text x="1630" y="804.8" fill="#000">80</text>
<text x="1630" y="851.3" fill="#000">50</text>
<text x="1630" y="907.3" fill="#000">15</text>
<text x="1630" y="924.8" fill="#000">0</text>
<text x="-1.5" y="941" fill="#000" font-size="9.2px">28 May 2019</text>
<text x="61.7" y="941" fill="#000" font-size="9.2px">28 May 16:00</text>
<text x="125.7" y="941" fill="#000" font-size="9.2px">29 May 08:00</text>
<text x="189.7" y="941" fill="#000" font-size="9.2px">30 May 00:00</text>
<text x="253.7" y="941" fill="#000" font-size="9.2px">30 May 16:00</text>
<text x="317.7" y="941" fill="#000" font-size="9.2px">31 May 08:00</text>
<text x="381.7" y="941" fill="#000" font-size="9.2px">3 Jun 00:00</text>
<text x="445.7" y="941" fill="#000" font-size="9.2px">3 Jun 16:00</text>
<text x="509.7" y="941" fill="#000" font-size="9.2px">4 Jun 08:00</text>
<text x="573.7" y="941" fill="#000" font-size="9.2px">5 Jun 00:00</text>
<text x="637.7" y="941" fill="#000" font-size="9.2px">5 Jun 16:00</text>
<text x="701.7" y="941" fill="#000" font-size="9.2px">6 Jun 08:00</text>
<text x="765.7" y="941" fill="#000" font-size="9.2px">7 Jun 00:00</text>
<text x="829.7" y="941" fill="#000" font-size="9.2px">7 Jun 16:00</text>
<text x="893.7" y="941" fill="#000" font-size="9.2px">10 Jun 08:00</text>
<text x="957.7" y="941" fill="#000" font-size="9.2px">11 Jun 00:00</text>
<text x="1021.7" y="941" fill="#000" font-size="9.2px">11 Jun 16:00</text>
<text x="1085.7" y="941" fill="#000" font-size="9.2px">12 Jun 08:00</text>
<text x="1149.7" y="941" fill="#000" font-size="9.2px">13 Jun 00:00</text>
<text x="1213.7" y="941" fill="#000" font-size="9.2px">13 Jun 16:00</text>
<text x="1277.7" y="941" fill="#000" font-size="9.2px">14 Jun 08:00</text>
<text x="1341.7" y="941" fill="#000" font-size="9.2px">17 Jun 00:00</text>
<text x="1405.7" y="941" fill="#000" font-size="9.2px">17 Jun 16:00</text>
</svg>
<svg width="1673" height="28" viewBox="0 0 1673 28" style="position:absolute;left:0;top:0" font-family='"Liberation Sans","Noto Sans CJK SC",sans-serif'>
<defs><pattern id="chk" width="2" height="2" patternUnits="userSpaceOnUse"><rect width="2" height="2" fill="#f0f0f0"/><rect width="1" height="1" fill="#fff"/><rect x="1" y="1" width="1" height="1" fill="#fff"/></pattern><linearGradient id="gplus" x1="0" y1="0" x2="0" y2="1"><stop offset="0" stop-color="#5fe35f"/><stop offset="1" stop-color="#0a9a0a"/></linearGradient><linearGradient id="gold" x1="0" y1="0" x2="1" y2="1"><stop offset="0" stop-color="#f7d24a"/><stop offset="1" stop-color="#b87a10"/></linearGradient><radialGradient id="lens" cx=".4" cy=".35" r=".7"><stop offset="0" stop-color="#fff"/><stop offset="1" stop-color="#bcdcf5"/></radialGradient></defs>
<g shape-rendering="crispEdges">
<rect x="0" y="0" width="1673" height="24" fill="#f0f0f0"/>
<rect x="0" y="23" width="1673" height="1" fill="#f8f8f8"/>
<rect x="0" y="24" width="1673" height="1" fill="#a0a0a0"/>
<rect x="0" y="25" width="1673" height="1" fill="#696969"/>
<rect x="0" y="26" width="1673" height="2" fill="#fff"/>
<rect x="223" y="0" width="1" height="24" fill="#a0a0a0"/><rect x="224" y="0" width="1" height="24" fill="#fff"/>
<rect x="227" y="2" width="3" height="1" fill="#a0a0a0"/>
<rect x="227" y="4" width="3" height="1" fill="#a0a0a0"/>
<rect x="227" y="6" width="3" height="1" fill="#a0a0a0"/>
<rect x="227" y="8" width="3" height="1" fill="#a0a0a0"/>
<rect x="227" y="10" width="3" height="1" fill="#a0a0a0"/>
<rect x="227" y="12" width="3" height="1" fill="#a0a0a0"/>
<rect x="227" y="14" width="3" height="1" fill="#a0a0a0"/>
<rect x="227" y="16" width="3" height="1" fill="#a0a0a0"/>
<rect x="227" y="18" width="3" height="1" fill="#a0a0a0"/>
<rect x="227" y="20" width="3" height="1" fill="#a0a0a0"/>
<rect x="261" y="0" width="25" height="23" fill="url(#chk)"/>
<rect x="261" y="0" width="25" height="1" fill="#a0a0a0"/>
<rect x="261" y="0" width="1" height="22" fill="#a0a0a0"/>
<rect x="261" y="22" width="25" height="1" fill="#fff"/>
<rect x="285" y="1" width="1" height="22" fill="#fff"/>
<rect x="318" y="1" width="1" height="21" fill="#a0a0a0"/>
<rect x="408" y="1" width="1" height="21" fill="#a0a0a0"/>
<rect x="413" y="0" width="25" height="23" fill="url(#chk)"/>
<rect x="413" y="0" width="25" height="1" fill="#a0a0a0"/>
<rect x="413" y="0" width="1" height="22" fill="#a0a0a0"/>
<rect x="413" y="22" width="25" height="1" fill="#fff"/>
<rect x="437" y="1" width="1" height="22" fill="#fff"/>
<rect x="441" y="0" width="25" height="23" fill="url(#chk)"/>
<rect x="441" y="0" width="25" height="1" fill="#a0a0a0"/>
<rect x="441" y="0" width="1" height="22" fill="#a0a0a0"/>
<rect x="441" y="22" width="25" height="1" fill="#fff"/>
<rect x="465" y="1" width="1" height="22" fill="#fff"/>
<rect x="470" y="1" width="1" height="21" fill="#a0a0a0"/>
<rect x="591" y="0" width="1" height="24" fill="#a0a0a0"/><rect x="592" y="0" width="1" height="24" fill="#fff"/>
<rect x="595" y="2" width="3" height="1" fill="#a0a0a0"/>
<rect x="595" y="4" width="3" height="1" fill="#a0a0a0"/>
<rect x="595" y="6" width="3" height="1" fill="#a0a0a0"/>
<rect x="595" y="8" width="3" height="1" fill="#a0a0a0"/>
<rect x="595" y="10" width="3" height="1" fill="#a0a0a0"/>
<rect x="595" y="12" width="3" height="1" fill="#a0a0a0"/>
<rect x="595" y="14" width="3" height="1" fill="#a0a0a0"/>
<rect x="595" y="16" width="3" height="1" fill="#a0a0a0"/>
<rect x="595" y="18" width="3" height="1" fill="#a0a0a0"/>
<rect x="595" y="20" width="3" height="1" fill="#a0a0a0"/>
<rect x="601" y="0" width="26" height="23" fill="url(#chk)"/>
<rect x="601" y="0" width="26" height="1" fill="#a0a0a0"/>
<rect x="601" y="0" width="1" height="22" fill="#a0a0a0"/>
<rect x="601" y="22" width="26" height="1" fill="#fff"/>
<rect x="626" y="1" width="1" height="22" fill="#fff"/>
<rect x="658" y="1" width="1" height="21" fill="#a0a0a0"/>
<rect x="897" y="0" width="1" height="24" fill="#a0a0a0"/><rect x="898" y="0" width="1" height="24" fill="#fff"/>
<rect x="901" y="2" width="3" height="1" fill="#a0a0a0"/>
<rect x="901" y="4" width="3" height="1" fill="#a0a0a0"/>
<rect x="901" y="6" width="3" height="1" fill="#a0a0a0"/>
<rect x="901" y="8" width="3" height="1" fill="#a0a0a0"/>
<rect x="901" y="10" width="3" height="1" fill="#a0a0a0"/>
<rect x="901" y="12" width="3" height="1" fill="#a0a0a0"/>
<rect x="901" y="14" width="3" height="1" fill="#a0a0a0"/>
<rect x="901" y="16" width="3" height="1" fill="#a0a0a0"/>
<rect x="901" y="18" width="3" height="1" fill="#a0a0a0"/>
<rect x="901" y="20" width="3" height="1" fill="#a0a0a0"/>
<rect x="1047" y="0" width="26" height="23" fill="url(#chk)"/>
<rect x="1047" y="0" width="26" height="1" fill="#a0a0a0"/>
<rect x="1047" y="0" width="1" height="22" fill="#a0a0a0"/>
<rect x="1047" y="22" width="26" height="1" fill="#fff"/>
<rect x="1072" y="1" width="1" height="22" fill="#fff"/>
<rect x="1158" y="0" width="1" height="24" fill="#a0a0a0"/>
</g>
<path d="M0,4.5 H5.5 L8.5,7.5 V16.5 H0 Z" fill="#fff" stroke="#9a9a9a"/><path d="M0,8.5H5M0,10.5H5M0,12.5H4" stroke="#b0b0b0"/>
<path d="M5.9,10.7 h2.8 v3.9 h3.9 v2.8 h-3.9 v3.9 h-2.8 v-3.9 h-3.9 v-2.8 h3.9 Z" fill="url(#gplus)" stroke="#0c8a0c" stroke-width=".8"/>
<text x="16" y="15.5" font-size="12px" fill="#000">新订单</text>
<path d="M71,5 L80,11 L76,18 L72,19.5 L64.5,14.5 Z" fill="url(#gold)" stroke="#a06a0c" stroke-width=".8"/><path d="M65,15 L72.5,18.5 L79.5,12" fill="none" stroke="#fbe9a0" stroke-width="1"/>
<path d="M95,4.5 L105,5.5 V14 H95 Z" fill="#2b8fe8" stroke="#1565c0" stroke-width=".8"/><rect x="98" y="7" width="6" height="5" fill="#dff0ff"/><path d="M99,9.5h4" stroke="#2b8fe8"/>
<path d="M95,19 a3,3 0 0 1 0,-6 a3.5,3.5 0 0 1 6,-1.2 a3,3 0 0 1 5,1.5 a2.8,2.8 0 0 1 -.5,5.7 Z" fill="#e8f0fa" stroke="#7f9ccc" stroke-width=".9"/>
<defs><linearGradient id="sg" x1="0" y1="0" x2="1" y2="0"><stop offset="0" stop-color="#eef2fb"/><stop offset=".5" stop-color="#e6f0ea"/><stop offset="1" stop-color="#9fd59f"/></linearGradient></defs>
<circle cx="128" cy="12" r="8" fill="url(#sg)"/>
<g fill="none"><path d="M128,4.3 a7.7,7.7 0 0 0 0,15.4" stroke="#8fa8e0" stroke-width="1"/><path d="M128,7 a5,5 0 0 0 0,10" stroke="#4f78d0" stroke-width="1.2"/><path d="M128,4.3 a7.7,7.7 0 0 1 0,15.4" stroke="#6fbf6f" stroke-width="1.2"/><path d="M128,7 a5,5 0 0 1 0,10" stroke="#58b058" stroke-width="1.2"/></g>
<circle cx="128" cy="11.5" r="2" fill="#2b55c8"/><rect x="127.3" y="12" width="1.7" height="7.8" fill="#1fa51f"/>
<path d="M148.5,11 L162,11 L156,19.5 Z" fill="#f6d44a" stroke="#c99a10" stroke-width=".8"/>
<path d="M147,9.5 q1,-1.5 4,-2 q0,-3.5 4.5,-3.5 q4.5,0 4.5,3.5 q3,.5 4,2 q-8.5,4.5 -17,0 Z" fill="#5aaee0" stroke="#2a7ab8" stroke-width=".8"/>
<circle cx="159.5" cy="15.5" r="4" fill="#d81e0e"/><rect x="157.8" y="13.8" width="3.4" height="3.4" fill="#fff"/>
<text x="168.5" y="14.8" font-size="12px" fill="#050505" textLength="46.5" lengthAdjust="spacingAndGlyphs">自动交易</text>
<path d="M241.5,6.5 V19.5 M238.5,17.5 H252" stroke="#555" stroke-width="1.1" fill="none"/>
<path d="M239.8,8.3 L241.5,5.8 L243.2,8.3 Z M250.5,15.8 L253,17.5 L250.5,19.2 Z" fill="#555"/>
<path d="M247.5,7.5 V15 M247.5,8.5 H250.5 M247.5,14.5 H244.8" stroke="#1a9a1a" stroke-width="1.3" fill="none"/>
<path d="M269.5,6.5 V19.5 M266.5,17.5 H280" stroke="#555" stroke-width="1.1" fill="none"/>
<path d="M267.8,8.3 L269.5,5.8 L271.2,8.3 Z M278.5,15.8 L281,17.5 L278.5,19.2 Z" fill="#555"/>
<path d="M275.5,4 V16" stroke="#0a8a0a" stroke-width="1.2"/><rect x="273.3" y="6.3" width="4.4" height="7.4" fill="#3fdc3f" stroke="#0a8a0a" stroke-width=".9"/>
<path d="M297.5,6.5 V19.5 M294.5,17.5 H308" stroke="#555" stroke-width="1.1" fill="none"/>
<path d="M295.8,8.3 L297.5,5.8 L299.2,8.3 Z M306.5,15.8 L309,17.5 L306.5,19.2 Z" fill="#555"/>
<path d="M296.5,14.5 Q300,8.5 302.5,9 T308,13" stroke="#2a9a2a" stroke-width="1.2" fill="none"/>
<path d="M337,14 L342,19.5" stroke="#caa020" stroke-width="2.6" stroke-linecap="round"/>
<circle cx="333" cy="10" r="5.3" fill="url(#lens)" stroke="#3c7ccc" stroke-width="1.2"/>
<path d="M330,10 H336" stroke="#4a88b8" stroke-width="1.8"/>
<path d="M333,7 V13" stroke="#4a88b8" stroke-width="1.8"/>
<path d="M365,14 L370,19.5" stroke="#caa020" stroke-width="2.6" stroke-linecap="round"/>
<circle cx="361" cy="10" r="5.3" fill="url(#lens)" stroke="#3c7ccc" stroke-width="1.2"/>
<path d="M358,10 H364" stroke="#4a88b8" stroke-width="1.8"/>
<rect x="383" y="4" width="8" height="8" fill="#4aa428"/><rect x="384" y="7" width="6" height="4" fill="#fff"/><rect x="385" y="8" width="4" height="1" fill="#4aa428" opacity=".5"/>
<rect x="391" y="4" width="8" height="8" fill="#2458cc"/><rect x="392" y="7" width="6" height="4" fill="#fff"/><rect x="393" y="8" width="4" height="1" fill="#2458cc" opacity=".5"/>
<rect x="383" y="12" width="8" height="8" fill="#2458cc"/><rect x="384" y="15" width="6" height="4" fill="#fff"/><rect x="385" y="16" width="4" height="1" fill="#2458cc" opacity=".5"/>
<rect x="391" y="12" width="8" height="8" fill="#4aa428"/><rect x="392" y="15" width="6" height="4" fill="#fff"/><rect x="393" y="16" width="4" height="1" fill="#4aa428" opacity=".5"/>
<path d="M421.5,6.5 V19.5 M418.5,17.5 H432" stroke="#555" stroke-width="1.1" fill="none"/>
<path d="M419.8,8.3 L421.5,5.8 L423.2,8.3 Z M430.5,15.8 L433,17.5 L430.5,19.2 Z" fill="#555"/>
<path d="M426,8 L430.5,11.5 L426,15 Z" fill="#4fdc4f" stroke="#129a12" stroke-width=".9"/>
<path d="M449.5,6.5 V19.5 M446.5,17.5 H460" stroke="#555" stroke-width="1.1" fill="none"/>
<path d="M447.8,8.3 L449.5,5.8 L451.2,8.3 Z M458.5,15.8 L461,17.5 L458.5,19.2 Z" fill="#555"/>
<path d="M455.5,6 V16.5" stroke="#1a6a9a" stroke-width="1.2"/><path d="M457,11.5 H461.5 M457,11.5 L459.5,9.5 M457,11.5 L459.5,13.5" stroke="#e04a0a" stroke-width="1.1" fill="none"/>
<path d="M480.5,4.5 H488 L491.5,8 V17 H480.5 Z" fill="#fff" stroke="#8a8a8a" stroke-width=".9"/><path d="M484.5,8 q-1.5,0 -1.5,1.5 v1 q0,1 -1,1 q1,0 1,1 v1 q0,1.5 1.5,1.5" stroke="#555" fill="none" stroke-width=".8"/>
<path d="M488.6,10.3 h2.8 v4 h4 v2.8 h-4 v4 h-2.8 v-4 h-4 v-2.8 h4 Z" fill="url(#gplus)" stroke="#0c8a0c" stroke-width=".8"/>
<path d="M502,11 H507.5 L504.75,14 Z" fill="#000"/>
<circle cx="526" cy="12" r="7.2" fill="#fff" stroke="#1a5ed0" stroke-width="2.2"/><circle cx="526" cy="12" r="6" fill="#f4f8ff" stroke="#7aa8ee" stroke-width=".6"/><path d="M526,8 V12 H529" stroke="#333" stroke-width="1.1" fill="none"/>
<path d="M541,11 H546.5 L543.75,14 Z" fill="#000"/>
<rect x="557.5" y="5.5" width="15" height="13" fill="#fff" stroke="#2a62c8"/><rect x="558" y="6" width="14" height="2" fill="#4a86e0"/><path d="M558,12.5 H572" stroke="#2a62c8" stroke-width=".8"/><path d="M559.5,11 L562,10 L564,10.5 L566.5,9.5 L568.5,10 L570.5,9" stroke="#b02010" fill="none" stroke-width="1"/><path d="M559.5,16.5 L562,15.5 L564,16.5 L566.5,14.5 L568.5,16 L570.5,15" stroke="#1a9a1a" fill="none" stroke-width="1"/>
<path d="M580,11 H585.5 L582.75,14 Z" fill="#000"/>
<path d="M609,5 V17 L611.8,14.5 L614,19.2 L616,18.2 L613.8,13.7 L617.3,13.3 Z" fill="#454545"/>
<g fill="#4a4a4a" shape-rendering="crispEdges"><rect x="634" y="12" width="6" height="1"/><rect x="643" y="12" width="6" height="1"/><rect x="641" y="5" width="1" height="6"/><rect x="641" y="14" width="1" height="6"/><rect x="641" y="12" width="1" height="1" fill="#8a8170"/></g>
<path d="M675.5,6 V19" stroke="#454545" stroke-width="1.1" shape-rendering="crispEdges"/>
<path d="M698,12.5 H710" stroke="#454545" stroke-width="1.1" shape-rendering="crispEdges"/>
<path d="M725.5,18.8 L738.3,6.8" stroke="#505050" stroke-width="1.1"/>
<path d="M752,15 L765,6 M753.5,18.5 L766.5,9.5 M755,10 L757,19 M759.5,7 L761.5,16 M764,4.5 L765.5,12" stroke="#505050" stroke-width="1" fill="none"/><text x="763" y="20.5" font-size="6.5px" font-weight="bold" fill="#404040">E</text>
<path d="M781,5.5 H794" stroke="#505050" stroke-width="1" stroke-dasharray="1,1"/>
<path d="M781,8.5 H794" stroke="#505050" stroke-width="1" stroke-dasharray="1,1"/>
<path d="M781,12.5 H794" stroke="#505050" stroke-width="1" stroke-dasharray="1,1"/>
<path d="M781,16.5 H789" stroke="#505050" stroke-width="1" stroke-dasharray="1,1"/>
<text x="790.5" y="21" font-size="6.5px" font-weight="bold" fill="#404040">F</text>
<text x="815.8" y="17" font-size="12.5px" font-weight="bold" fill="#505050" text-anchor="middle">A</text>
<rect x="838" y="5.5" width="12" height="13" fill="none" stroke="#505050" stroke-dasharray="1,1"/><text x="844" y="16.5" font-size="12px" font-weight="bold" fill="#505050" text-anchor="middle">T</text>
<path d="M866,10 L869,6.5 L872,10 L869,11.5 Z M873,16 L876,13 L879,16 L876,19 Z" fill="#454545"/><path d="M867.5,13.5 L869.5,15.5 L873.5,10.5" stroke="#454545" stroke-width="1.3" fill="none"/>
<path d="M886,11 H891.5 L888.75,14 Z" fill="#000"/>
<text x="919" y="15.6" font-size="9.5px" fill="#333" text-anchor="middle">M1</text>
<text x="947" y="15.6" font-size="9.5px" fill="#333" text-anchor="middle">M5</text>
<text x="975.5" y="15.6" font-size="9.5px" fill="#333" text-anchor="middle">M15</text>
<text x="1003.5" y="15.6" font-size="9.5px" fill="#333" text-anchor="middle">M30</text>
<text x="1031.5" y="15.6" font-size="9.5px" fill="#333" text-anchor="middle">H1</text>
<text x="1059" y="15.6" font-size="9.5px" fill="#333" text-anchor="middle">H4</text>
<text x="1087.5" y="15.6" font-size="9.5px" fill="#333" text-anchor="middle">D1</text>
<text x="1116" y="15.6" font-size="9.5px" fill="#333" text-anchor="middle">W1</text>
<text x="1143" y="15.6" font-size="9.5px" fill="#333" text-anchor="middle">MN</text>
<circle cx="1629" cy="9.5" r="3.3" fill="#fff" stroke="#2a52d8" stroke-width="1.6"/><path d="M1626.5,12.5 L1621.5,17" stroke="#2a52d8" stroke-width="2.2" stroke-linecap="round"/>
<ellipse cx="1661.5" cy="9" rx="6.2" ry="4.8" fill="#e2e2e2" stroke="#a8a8a8" stroke-width=".8"/><path d="M1662.5,13.5 L1665.5,16 L1664.5,13" fill="#e2e2e2" stroke="#a8a8a8" stroke-width=".8"/>
<ellipse cx="1652.5" cy="13" rx="5.3" ry="4" fill="#eeeeee" stroke="#9a9a9a" stroke-width=".8"/><path d="M1650,16.3 L1649.5,19 L1652.5,16.9" fill="#eeeeee" stroke="#9a9a9a" stroke-width=".8"/>
</svg>
<style>
#panel{position:absolute;left:0;top:46px;width:222px;height:67px;background:#fff;font-family:"Liberation Sans",sans-serif;color:#fff;}
#panel .tab{position:absolute;top:2px;width:51px;height:25px;box-sizing:border-box;border:1px solid #c00808;border-bottom:none;background:linear-gradient(#f85252,#e53838);z-index:2;font-size:11.5px;text-align:center;line-height:23px;}
#panel .tab i{position:absolute;left:3px;right:3px;bottom:0;height:1px;background:#f59a9a;border-top:1px solid #a80808;}
#panel .big{position:absolute;top:26px;height:40px;box-sizing:border-box;border:1px solid #b80808;background:linear-gradient(#e53535,#d02020 40%,#a80404);}
#panel .s{position:absolute;font-size:12px;font-weight:bold;top:19px;}
#panel .b{position:absolute;font-size:35px;top:-2px;transform:scaleX(.91);transform-origin:0 0;letter-spacing:-.5px;}
#panel .p{position:absolute;font-size:11.5px;font-weight:bold;top:3px;}
#spin{position:absolute;left:55px;top:2px;width:111px;height:22px;box-sizing:border-box;border:1px solid #a9adb3;background:#fff;color:#000;}
#spin .bt{position:absolute;top:0;width:20px;height:20px;background:#e5e5e5;}
#spin .v{position:absolute;left:22px;top:0;width:65px;height:20px;line-height:20px;text-align:right;font-size:12.5px;padding-right:2px;box-sizing:border-box;}
</style>
<div id="panel">
<div class="tab" style="left:1px;width:52px"><span style="display:inline-block;transform:scaleX(.9)">SELL</span><i></i></div>
<div class="tab" style="left:168px;width:52px"><span style="display:inline-block;transform:scaleX(.93)">BUY</span><i></i></div>
<div id="spin"><div class="bt" style="left:0;border-right:1px solid #a9adb3"><svg width="20" height="20"><polygon points="7,9 13,9 10,12" fill="#000"/></svg></div><div class="v">1.00</div><div class="bt" style="right:0;border-left:1px solid #a9adb3"><svg width="20" height="20"><polygon points="7,12 13,12 10,9" fill="#000"/></svg></div></div>
<div class="big" style="left:1px;width:109px"><span class="s" style="left:23px">108</span><span class="b" style="left:46.5px">53</span><span class="p" style="left:87px">7</span></div>
<div class="big" style="left:112px;width:108px"><span class="s" style="left:21px">108</span><span class="b" style="left:46.5px">55</span><span class="p" style="left:86px">4</span></div>
</div>

</body></html>
